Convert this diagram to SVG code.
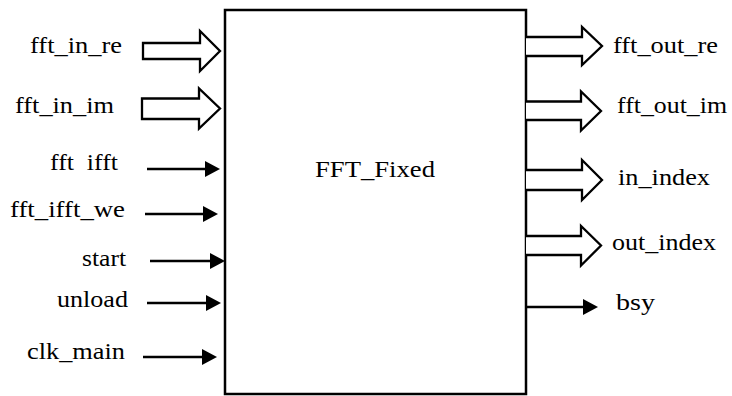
<svg xmlns="http://www.w3.org/2000/svg" width="732" height="396" viewBox="0 0 732 396">
<style>
.bus{fill:#fff;stroke:#000;stroke-width:2.3;stroke-linejoin:miter}
.wire{stroke:#000;stroke-width:2.6;fill:none}
.head{fill:#000}
text{font-family:"Liberation Serif","DejaVu Serif",serif;font-size:22.5px;fill:#000}
</style>
<rect width="732" height="396" fill="#fff"/>
<g id="fft_fixed">
<rect x="225" y="10" width="301" height="384" fill="#fff" stroke="#000" stroke-width="2.5"/>
<text x="315" y="177" style="font-size:24px" textLength="120" lengthAdjust="spacingAndGlyphs">FFT_Fixed</text>
</g>
<g id="connectors">
<path class="bus" d="M143,43 H200 V31 L220,51 L200,71 V59 H143 Z"/>
<path class="bus" d="M142,98.5 H199 V88.5 L220,108.5 L199,128.5 V119 H142 Z"/>
<line class="wire" x1="147" y1="169" x2="208" y2="169"/><path class="head" d="M205,161 L220,169 L205,177 Z"/>
<line class="wire" x1="145" y1="214" x2="206" y2="214"/><path class="head" d="M203,206 L218,214 L203,222 Z"/>
<line class="wire" x1="150" y1="261" x2="213" y2="261"/><path class="head" d="M210,253 L225,261 L210,269 Z"/>
<line class="wire" x1="147" y1="303" x2="209" y2="303"/><path class="head" d="M206,295 L221,303 L206,311 Z"/>
<line class="wire" x1="143" y1="357" x2="205" y2="357"/><path class="head" d="M202,349 L217,357 L202,365 Z"/>
<path class="bus" d="M526,37 H582 V27 L602,46 L582,65 V56 H526"/>
<path class="bus" d="M526,101.5 H581 V91.5 L601,111 L581,130.5 V120 H526"/>
<path class="bus" d="M526,170 H582 V160 L602,180 L582,200 V190 H526"/>
<path class="bus" d="M526,236 H581 V226 L601,245.5 L581,265.5 V255 H526"/>
<line class="wire" x1="526" y1="307" x2="586" y2="307"/><path class="head" d="M583,299 L598,307 L583,315 Z"/>
</g>
<g id="fft_in_re"><text x="30" y="53" textLength="92" lengthAdjust="spacingAndGlyphs">fft_in_re</text></g>
<g id="fft_in_im"><text x="15" y="113" textLength="99" lengthAdjust="spacingAndGlyphs">fft_in_im</text></g>
<g id="fft_ifft"><text x="50" y="170" xml:space="preserve" textLength="68" lengthAdjust="spacingAndGlyphs">fft  ifft</text></g>
<g id="fft_ifft_we"><text x="10" y="217" textLength="115" lengthAdjust="spacingAndGlyphs">fft_ifft_we</text></g>
<g id="start"><text x="82" y="266" textLength="44" lengthAdjust="spacingAndGlyphs">start</text></g>
<g id="unload"><text x="57" y="307" textLength="71" lengthAdjust="spacingAndGlyphs">unload</text></g>
<g id="clk_main"><text x="27" y="359" textLength="98" lengthAdjust="spacingAndGlyphs">clk_main</text></g>
<g id="fft_out_re"><text x="613" y="53" textLength="105" lengthAdjust="spacingAndGlyphs">fft_out_re</text></g>
<g id="fft_out_im"><text x="617" y="113" textLength="110" lengthAdjust="spacingAndGlyphs">fft_out_im</text></g>
<g id="in_index"><text x="618" y="185" textLength="92" lengthAdjust="spacingAndGlyphs">in_index</text></g>
<g id="out_index"><text x="612" y="250" textLength="104" lengthAdjust="spacingAndGlyphs">out_index</text></g>
<g id="bsy"><text x="616" y="310" textLength="39" lengthAdjust="spacingAndGlyphs">bsy</text></g>
</svg>
